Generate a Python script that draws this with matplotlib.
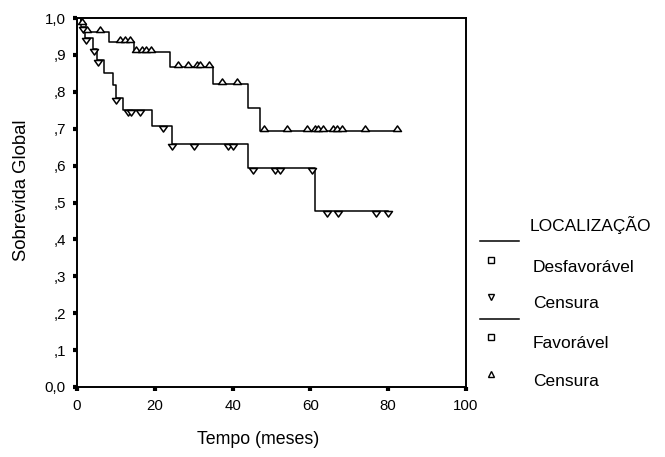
import numpy as np
import matplotlib
matplotlib.use("Agg")
import matplotlib.pyplot as plt
from matplotlib.path import Path
from matplotlib.lines import Line2D

plt.rcParams["font.family"] = ["Liberation Sans", "DejaVu Sans"]

# =========================================================
# DATA
# =========================================================

# Favorável: step curve
fav_t = [0, 1.0, 2.2, 8.3, 14.6, 23.9, 35.0, 44.0, 47.0, 82.2]
fav_s = [1.0, 0.984, 0.961, 0.936, 0.907, 0.868, 0.820, 0.757, 0.694, 0.694]
fav_cens = [1.3, 2.6, 5.9, 11.1, 12.3, 13.6, 15.2, 16.6, 17.7, 19.0,
            26.0, 28.6, 30.8, 31.6, 34.0, 37.2, 41.2,
            48.1, 53.9, 59.0, 61.2, 62.0, 63.2, 65.9, 66.9, 68.2, 74.0, 82.2]

# Desfavorável: step curve
des_t = [0, 1.0, 2.0, 4.2, 5.2, 6.9, 9.2, 9.9, 11.9, 19.2, 24.3, 44.0, 61.2, 80.0]
des_s = [1.0, 0.975, 0.947, 0.916, 0.886, 0.852, 0.818, 0.784, 0.750,
         0.706, 0.658, 0.594, 0.476, 0.476]
des_cens = [1.5, 2.2, 4.3, 5.3, 10.0, 13.2, 13.9, 16.2, 22.0,
            24.4, 30.1, 38.9, 40.0, 45.2, 50.9, 52.2, 60.3,
            64.2, 67.0, 76.9, 80.0]

x_ticks = [0, 20, 40, 60, 80, 100]
y_ticks = [0.0, 0.1, 0.2, 0.3, 0.4, 0.5, 0.6, 0.7, 0.8, 0.9, 1.0]
y_tick_labels = ["0,0", ",1", ",2", ",3", ",4", ",5", ",6", ",7", ",8", ",9", "1,0"]


def surv_at(times, levels, t):
    idx = np.searchsorted(times, t, side="right") - 1
    return np.asarray(levels)[idx]


# triangle markers sitting on the line (SPSS style)
tri_up = Path([(-1, 0), (1, 0), (0, 1.4), (-1, 0)],
              [Path.MOVETO, Path.LINETO, Path.LINETO, Path.CLOSEPOLY])
tri_down = Path([(-1, 0), (1, 0), (0, -1.4), (-1, 0)],
                [Path.MOVETO, Path.LINETO, Path.LINETO, Path.CLOSEPOLY])

# =========================================================
# FIGURE
# =========================================================
W, H = 665, 457
fig = plt.figure(figsize=(W / 100, H / 100), dpi=100)
ax = fig.add_axes([77 / W, 1 - 387 / H, 389 / W, 369 / H])

ax.step(des_t, des_s, where="post", color="black", linewidth=1.1)
ax.step(fav_t, fav_s, where="post", color="black", linewidth=1.1)

ax.plot(des_cens, surv_at(des_t, des_s, des_cens), linestyle="none",
        marker=tri_down, markersize=8, markerfacecolor="white",
        markeredgecolor="black", markeredgewidth=1.1)
ax.plot(fav_cens, surv_at(fav_t, fav_s, fav_cens), linestyle="none",
        marker=tri_up, markersize=8, markerfacecolor="white",
        markeredgecolor="black", markeredgewidth=1.1)

ax.set_xlim(0, 100)
ax.set_ylim(0, 1.0)
ax.set_xticks(x_ticks)
ax.set_yticks(y_ticks)
ax.set_yticklabels(y_tick_labels)
ax.tick_params(direction="out", length=3, width=3, labelsize=10.8)
ax.tick_params(axis="y", pad=5)
ax.tick_params(axis="x", pad=6)
for sp in ax.spines.values():
    sp.set_linewidth(1.4)

fig.text(22 / W, 1 - 190 / H, "Sobrevida Global", rotation=90,
         ha="center", va="center", fontsize=13.3)
fig.text(258 / W, 1 - 440 / H, "Tempo (meses)",
         ha="center", va="center", fontsize=12.8)

# =========================================================
# LEGEND (drawn by hand, SPSS layout)
# =========================================================
def fx(px):
    return px / W


def fy(py):
    return 1 - py / H


fig.text(fx(530), fy(225), "LOCALIZAÇÃO", ha="left", va="center", fontsize=12.5)
for ly in (241, 319):
    fig.add_artist(Line2D([fx(480), fx(519)], [fy(ly), fy(ly)],
                          color="black", linewidth=1.1, transform=fig.transFigure))

legend_rows = [
    (260, 267, "s", "Desfavorável"),
    (297, 303, "v", "Censura"),
    (337, 343, "s", "Favorável"),
    (374, 381, "^", "Censura"),
]
for my, ty, mk, txt in legend_rows:
    fig.add_artist(Line2D([fx(491)], [fy(my)], marker=mk, markersize=4,
                          markerfacecolor="white", markeredgecolor="black",
                          markeredgewidth=1.0, linestyle="none",
                          transform=fig.transFigure))
    fig.text(fx(533), fy(ty), txt, ha="left", va="center", fontsize=12.5)

fig.savefig("out.png", dpi=100)
